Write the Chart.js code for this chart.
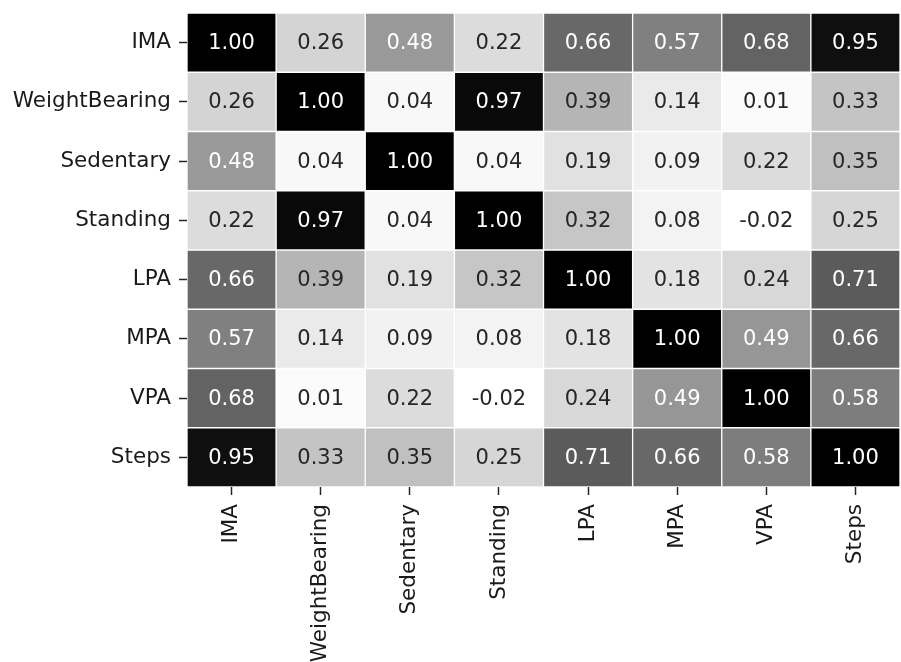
<!DOCTYPE html>
<html>
<head>
<meta charset="utf-8">
<script src="https://cdn.jsdelivr.net/npm/chart.js@4"></script>
<style>
    body { margin: 0; background: #ffffff; }
    #wrap { width: 901px; height: 662px; position: relative; }
</style>
</head>
<body>
<div id="wrap"><canvas id="heatmap"></canvas></div>
<script>
// Variables (same order on both axes)
const labels = ['IMA', 'WeightBearing', 'Sedentary', 'Standing', 'LPA', 'MPA', 'VPA', 'Steps'];

// Correlation matrix, one row per variable
const rowIMA           = [1.00, 0.26, 0.48, 0.22, 0.66, 0.57, 0.68, 0.95];
const rowWeightBearing = [0.26, 1.00, 0.04, 0.97, 0.39, 0.14, 0.01, 0.33];
const rowSedentary     = [0.48, 0.04, 1.00, 0.04, 0.19, 0.09, 0.22, 0.35];
const rowStanding      = [0.22, 0.97, 0.04, 1.00, 0.32, 0.08, -0.02, 0.25];
const rowLPA           = [0.66, 0.39, 0.19, 0.32, 1.00, 0.18, 0.24, 0.71];
const rowMPA           = [0.57, 0.14, 0.09, 0.08, 0.18, 1.00, 0.49, 0.66];
const rowVPA           = [0.68, 0.01, 0.22, -0.02, 0.24, 0.49, 1.00, 0.58];
const rowSteps         = [0.95, 0.33, 0.35, 0.25, 0.71, 0.66, 0.58, 1.00];

const matrix = [rowIMA, rowWeightBearing, rowSedentary, rowStanding, rowLPA, rowMPA, rowVPA, rowSteps];

// colour range as used by the heatmap (data min / max)
const vMin = -0.02;
const vMax = 1.00;

// "Greys" colour stops
const greys = [255, 240, 217, 189, 150, 115, 82, 37, 0];

function greyLevel(v) {
    let t = (v - vMin) / (vMax - vMin);
    t = Math.max(0, Math.min(1, t));
    const pos = t * (greys.length - 1);
    const i = Math.min(Math.floor(pos), greys.length - 2);
    const f = pos - i;
    return Math.round(greys[i] + (greys[i + 1] - greys[i]) * f);
}

function cellColor(v) {
    const g = greyLevel(v);
    return `rgb(${g}, ${g}, ${g})`;
}

function textColor(v) {
    const c = greyLevel(v) / 255;
    const lin = c <= 0.03928 ? c / 12.92 : Math.pow((c + 0.055) / 1.055, 2.4);
    return lin > 0.408 ? '#262626' : '#ffffff';
}

const FONT = "'DejaVu Sans', sans-serif";

// one floating-bar dataset per row
const datasets = matrix.map((row, r) => ({
    label: labels[r],
    data: row.map(() => [r, r + 1]),
    values: row,
    backgroundColor: row.map(cellColor),
    borderColor: '#ffffff',
    borderWidth: 1,
    borderSkipped: false,
    barPercentage: 1,
    categoryPercentage: 1,
    grouped: false
}));

// write the value in the middle of each cell
const cellLabels = {
    id: 'cellLabels',
    afterDatasetsDraw(chart) {
        const ctx = chart.ctx;
        ctx.save();
        ctx.font = `21px ${FONT}`;
        ctx.textAlign = 'center';
        ctx.textBaseline = 'middle';
        chart.data.datasets.forEach((ds, di) => {
            const meta = chart.getDatasetMeta(di);
            meta.data.forEach((bar, i) => {
                const v = ds.values[i];
                const { x, y, base } = bar.getProps(['x', 'y', 'base'], true);
                ctx.fillStyle = textColor(v);
                ctx.fillText(v.toFixed(2), x, (y + base) / 2 + 1);
            });
        });
        ctx.restore();
    }
};

new Chart(document.getElementById('heatmap'), {
    type: 'bar',
    data: {
        labels: labels,
        datasets: datasets
    },
    options: {
        responsive: true,
        maintainAspectRatio: false,
        animation: false,
        layout: {
            padding: { top: 13, right: 1, left: 0, bottom: 0 }
        },
        plugins: {
            legend: { display: false },
            tooltip: { enabled: false }
        },
        scales: {
            x: {
                type: 'category',
                offset: true,
                border: { display: false },
                grid: {
                    offset: false,
                    drawOnChartArea: false,
                    drawTicks: true,
                    tickLength: 8,
                    tickWidth: 1.5,
                    tickColor: '#262626'
                },
                ticks: {
                    autoSkip: false,
                    minRotation: 90,
                    maxRotation: 90,
                    padding: 9,
                    color: '#1a1a1a',
                    font: { family: FONT, size: 21.5 }
                },
                afterFit(scale) {
                    scale.height = 175;
                    scale.paddingLeft = 0;
                    scale.paddingRight = 0;
                }
            },
            y: {
                type: 'linear',
                min: 0,
                max: 8,
                reverse: true,
                border: { display: false },
                grid: {
                    drawOnChartArea: false,
                    drawTicks: true,
                    tickLength: 8,
                    tickWidth: 1.5,
                    tickColor: '#262626'
                },
                afterBuildTicks(scale) {
                    scale.ticks = labels.map((_, i) => ({ value: i + 0.5 }));
                },
                ticks: {
                    padding: 8,
                    color: '#1a1a1a',
                    font: { family: FONT, size: 21.5 },
                    callback: function (value, index) {
                        return labels[index];
                    }
                },
                afterFit(scale) {
                    scale.width = 187;
                    scale.paddingTop = 0;
                    scale.paddingBottom = 0;
                }
            }
        }
    },
    plugins: [cellLabels]
});
</script>
</body>
</html>
